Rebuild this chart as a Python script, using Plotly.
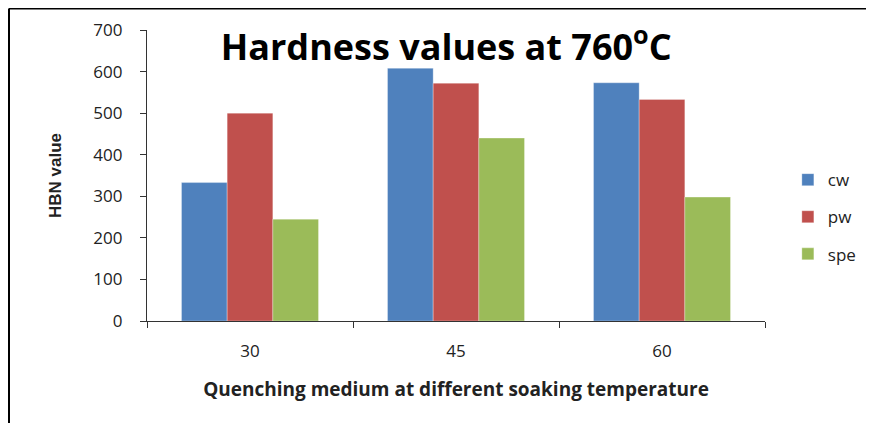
import plotly.graph_objects as go

categories = ['30', '45', '60']
cw = [333, 608, 573]
pw = [500, 572, 533]
spe = [245, 440, 298]

series = [('cw', cw, '#4F81BD'), ('pw', pw, '#C0504D'), ('spe', spe, '#9BBB59')]

fig = go.Figure()
for name, vals, color in series:
    fig.add_trace(go.Bar(
        x=categories, y=vals, name=name, legendgroup=name,
        marker=dict(color=color, line=dict(color='rgba(255,255,255,0.6)', width=0.5)),
    ))

font = "Open Sans, Lato, sans-serif"

# the page body has an 8px margin, so the figure is 8px smaller than the window
W, H = 866, 415
L, T, PW, PH = 139, 22, 618, 291

fig.update_layout(
    width=W, height=H,
    margin=dict(l=L, r=W - L - PW, t=T, b=H - T - PH, autoexpand=False),
    paper_bgcolor='white', plot_bgcolor='white',
    barmode='group', bargap=0.335, bargroupgap=0,
    font=dict(family=font, size=17, color='#222'),
    title=dict(text='<b>Hardness values at 760<sup>o</sup>C</b>',
               x=0.506, xanchor='center', y=1 - 39 / H, yanchor='middle',
               font=dict(size=36, color='black', family=font)),
    showlegend=True,
    legend=dict(x=1.037, xanchor='left', y=0.357, yanchor='middle',
                traceorder='grouped', tracegroupgap=12,
                font=dict(size=17, color='#222'), itemwidth=30),
    xaxis=dict(
        showline=True, linecolor='#333', linewidth=1.2,
        ticks='outside', ticklen=6, tickcolor='#333', tickson='boundaries',
        ticklabelstandoff=14, showgrid=False,
        title=dict(text='<b>Quenching medium at different soaking temperature</b>',
                   font=dict(size=19, color='#222'), standoff=22),
    ),
    yaxis=dict(
        range=[0, 700], dtick=100, showgrid=False,
        showline=True, linecolor='#333', linewidth=1.2,
        ticks='outside', ticklen=6, tickcolor='#333',
        ticklabelstandoff=14,
        title=dict(text='<b>HBN value</b>', standoff=27,
                   font=dict(size=17, color='#222',
                             family='Liberation Sans Narrow, Arial Narrow, sans-serif')),
    ),
)

# outer frame lines (left and top) as in the source picture
fx0 = (1 - L) / PW
fy1 = 1 + (T - 0.5) / PH
fig.add_shape(type='line', xref='paper', yref='paper', x0=fx0, x1=fx0, y0=-0.5, y1=fy1,
              line=dict(color='black', width=2))
fig.add_shape(type='line', xref='paper', yref='paper', x0=fx0, x1=1.3, y0=fy1, y1=fy1,
              line=dict(color='black', width=2))

fig.write_html("out.html")
